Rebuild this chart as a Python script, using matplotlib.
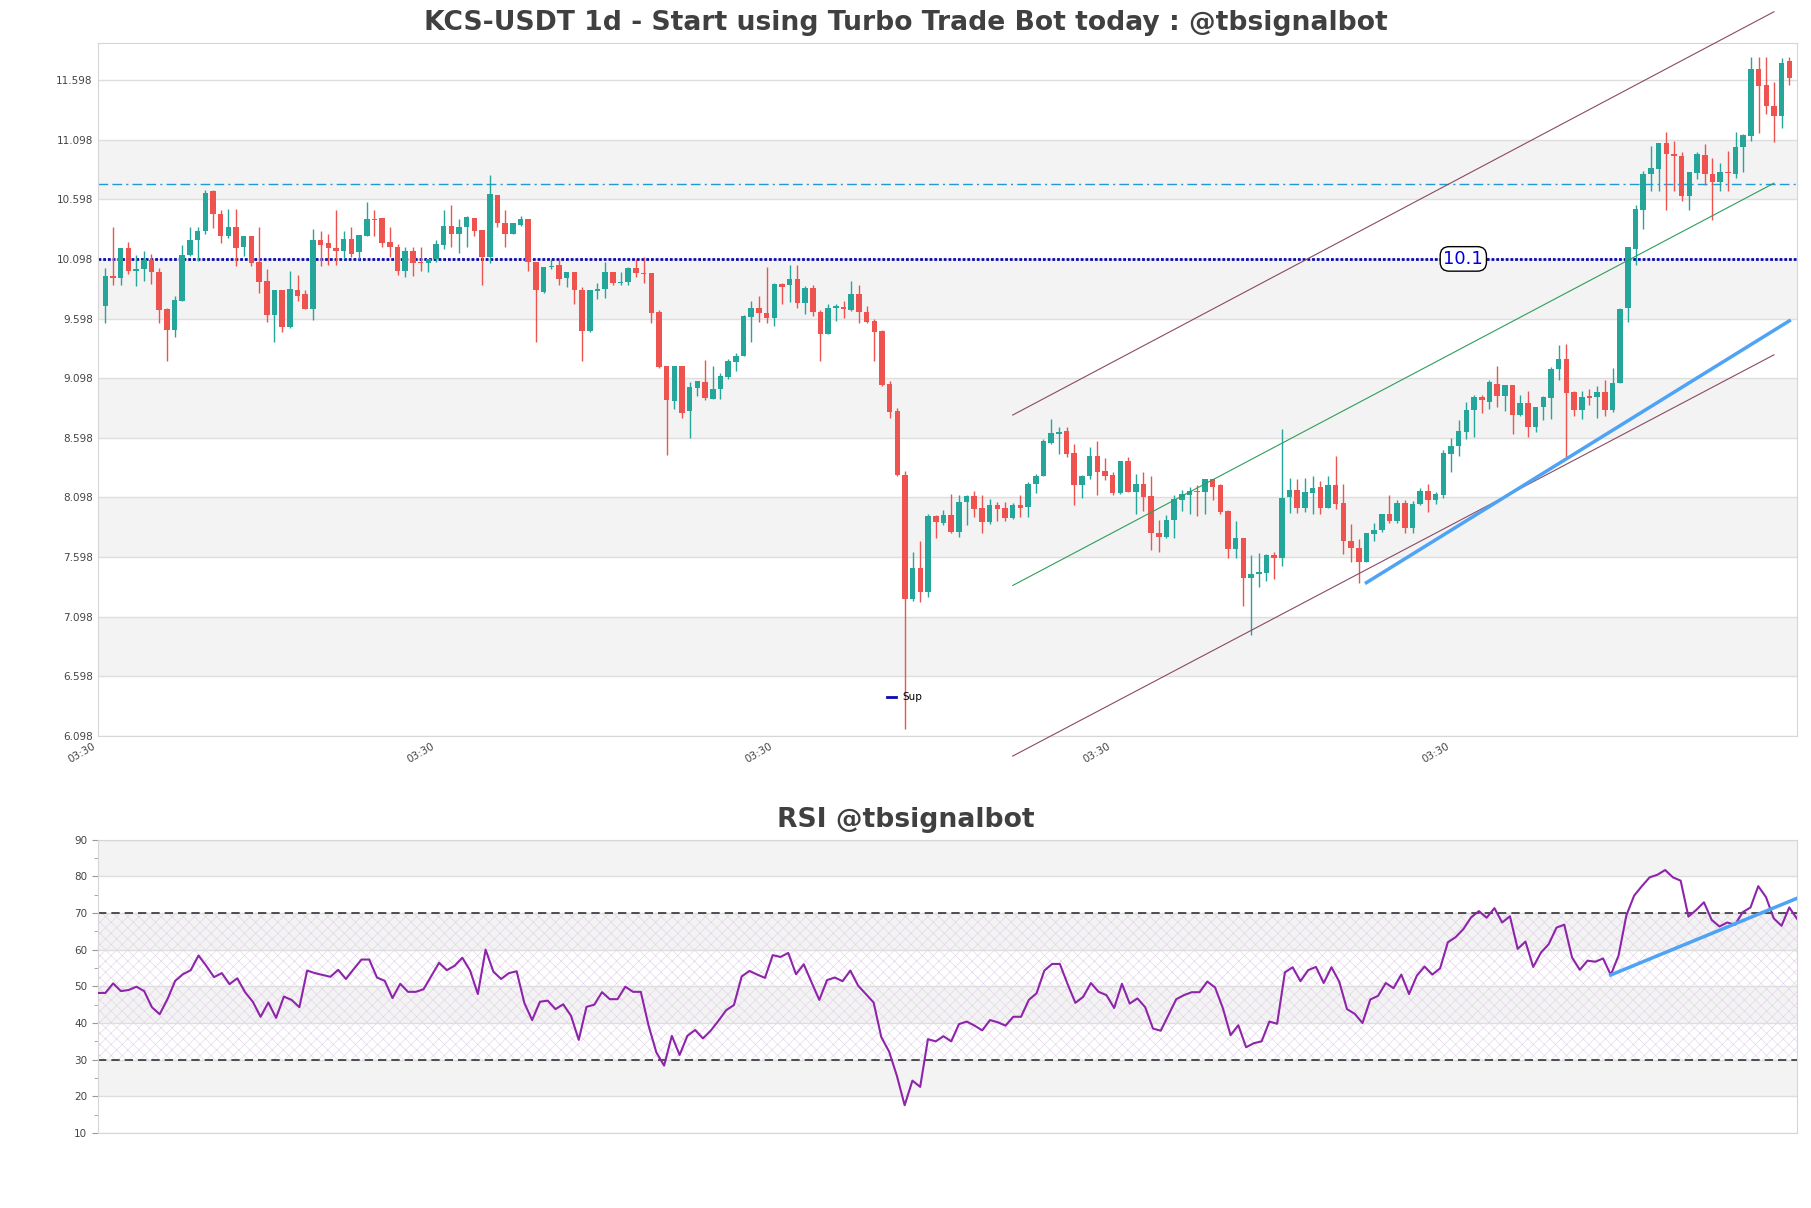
import numpy as np
import matplotlib
matplotlib.use("Agg")
import matplotlib.pyplot as plt
from matplotlib.lines import Line2D

# daily candles (open / high / low / close)
opens = [9.699, 9.957, 9.935, 10.193, 9.995, 10.013, 10.092, 9.991, 9.676, 9.500,
         9.748, 10.130, 10.257, 10.332, 10.665, 10.474, 10.287, 10.362, 10.201, 10.287,
         10.073, 9.912, 9.624, 9.841, 9.523, 9.841, 9.800, 9.676, 10.253, 10.234,
         10.193, 10.163, 10.268, 10.152, 10.287, 10.429, 10.437, 10.242, 10.201, 9.995,
         10.163, 10.070, 10.062, 10.100, 10.212, 10.373, 10.309, 10.369, 10.444, 10.343,
         10.118, 10.635, 10.403, 10.309, 10.384, 10.429, 10.073, 9.822, 10.028, 10.043,
         9.935, 9.991, 9.841, 9.493, 9.826, 9.845, 9.987, 9.897, 9.901, 10.025,
         9.976, 9.976, 9.654, 9.201, 8.905, 9.201, 8.819, 9.017, 9.070, 8.927,
         9.006, 9.111, 9.231, 9.280, 9.609, 9.688, 9.643, 9.605, 9.890, 9.879,
         9.931, 9.725, 9.852, 9.654, 9.467, 9.684, 9.695, 9.673, 9.800, 9.654,
         9.575, 9.493, 9.051, 8.819, 8.287, 7.246, 7.508, 7.302, 7.939, 7.882,
         7.950, 7.808, 8.062, 8.107, 8.006, 7.890, 8.032, 8.006, 7.927, 8.032,
         8.021, 8.212, 8.276, 8.556, 8.631, 8.658, 8.474, 8.201, 8.276, 8.444,
         8.321, 8.283, 8.133, 8.407, 8.145, 8.212, 8.107, 7.800, 7.770, 7.912,
         8.077, 8.118, 8.156, 8.145, 8.249, 8.201, 7.987, 7.665, 7.759, 7.422,
         7.459, 7.463, 7.613, 7.590, 8.100, 8.163, 8.013, 8.137, 8.182, 8.006,
         8.201, 8.051, 7.733, 7.676, 7.553, 7.789, 7.826, 7.957, 7.901, 8.051,
         7.845, 8.040, 8.152, 8.077, 8.118, 8.463, 8.527, 8.650, 8.830, 8.938,
         8.901, 9.051, 8.950, 9.043, 8.789, 8.894, 8.688, 8.856, 8.933, 9.175,
         9.260, 8.979, 8.829, 8.948, 8.941, 8.979, 8.829, 9.056, 9.683, 10.183,
         10.510, 10.806, 10.848, 11.068, 10.979, 10.960, 10.625, 10.818, 10.971, 10.806,
         10.741, 10.825, 10.806, 11.037, 11.125, 11.694, 11.560, 11.383, 11.298, 11.760]
highs = [10.025, 10.362, 10.193, 10.238, 10.130, 10.163, 10.137, 10.025, 9.684, 9.785,
         10.216, 10.362, 10.362, 10.676, 10.676, 10.504, 10.519, 10.519, 10.287, 10.287,
         10.362, 10.010, 9.841, 9.841, 9.998, 9.965, 9.841, 10.347, 10.328, 10.309,
         10.512, 10.336, 10.362, 10.298, 10.571, 10.512, 10.437, 10.362, 10.220, 10.201,
         10.201, 10.201, 10.100, 10.253, 10.512, 10.553, 10.429, 10.459, 10.444, 10.343,
         10.804, 10.635, 10.504, 10.399, 10.459, 10.429, 10.073, 10.032, 10.100, 10.100,
         9.991, 9.991, 9.864, 9.837, 9.897, 10.073, 9.987, 9.987, 10.032, 10.100,
         10.111, 9.976, 9.673, 9.201, 9.201, 9.201, 9.070, 9.077, 9.249, 9.201,
         9.145, 9.257, 9.306, 9.624, 9.748, 9.785, 10.028, 9.897, 9.897, 10.043,
         10.043, 9.867, 9.879, 9.673, 9.718, 9.718, 9.748, 9.909, 9.879, 9.699,
         9.594, 9.500, 9.073, 8.845, 8.321, 7.639, 7.733, 7.957, 7.950, 7.995,
         8.126, 8.118, 8.118, 8.152, 8.118, 8.088, 8.062, 8.062, 8.051, 8.118,
         8.231, 8.294, 8.586, 8.755, 8.688, 8.688, 8.545, 8.283, 8.519, 8.568,
         8.425, 8.313, 8.407, 8.437, 8.294, 8.313, 8.276, 7.912, 7.953, 8.118,
         8.163, 8.182, 8.201, 8.257, 8.257, 8.208, 7.995, 7.901, 7.759, 7.613,
         7.631, 7.628, 7.639, 8.669, 8.264, 8.257, 8.264, 8.276, 8.238, 8.276,
         8.444, 8.208, 7.875, 7.751, 7.796, 7.882, 7.957, 8.118, 8.077, 8.077,
         8.070, 8.174, 8.212, 8.145, 8.493, 8.594, 8.751, 8.901, 8.961, 8.961,
         9.081, 9.201, 9.043, 9.043, 8.957, 8.987, 8.856, 8.950, 9.194, 9.375,
         9.387, 8.991, 8.991, 9.010, 9.029, 9.079, 9.183, 9.690, 10.194, 10.548,
         10.837, 11.048, 11.068, 11.164, 11.087, 10.998, 10.825, 10.991, 11.060, 10.941,
         10.906, 11.002, 11.164, 11.144, 11.791, 11.791, 11.791, 11.579, 11.779, 11.791]
lows = [9.560, 9.879, 9.879, 9.968, 9.867, 9.912, 9.886, 9.560, 9.242, 9.444,
        9.744, 10.122, 10.081, 10.306, 10.354, 10.231, 10.272, 10.036, 10.122, 10.036,
        9.811, 9.568, 9.399, 9.489, 9.515, 9.744, 9.676, 9.583, 10.036, 10.047,
        10.043, 10.100, 10.111, 10.100, 10.287, 10.287, 10.197, 10.111, 9.961, 9.950,
        9.953, 9.998, 9.987, 10.073, 10.178, 10.197, 10.145, 10.197, 10.287, 9.879,
        10.062, 10.362, 10.197, 10.309, 10.373, 9.995, 9.399, 9.811, 10.017, 9.879,
        9.860, 9.718, 9.242, 9.482, 9.763, 9.774, 9.879, 9.882, 9.882, 9.950,
        9.894, 9.560, 9.186, 8.455, 8.837, 8.762, 8.594, 8.950, 8.912, 8.920,
        8.920, 9.088, 9.156, 9.280, 9.399, 9.568, 9.560, 9.534, 9.718, 9.733,
        9.688, 9.635, 9.616, 9.242, 9.467, 9.575, 9.605, 9.665, 9.560, 9.560,
        9.242, 9.032, 8.762, 8.276, 6.159, 7.234, 7.219, 7.264, 7.762, 7.864,
        7.796, 7.770, 7.864, 7.931, 7.796, 7.875, 7.901, 7.901, 7.920, 7.931,
        7.931, 8.133, 8.276, 8.545, 8.463, 8.437, 8.032, 8.096, 8.257, 8.115,
        8.246, 8.115, 8.126, 8.145, 7.957, 7.987, 7.658, 7.639, 7.762, 7.759,
        7.987, 7.957, 7.946, 7.957, 8.077, 7.957, 7.594, 7.594, 7.189, 6.946,
        7.347, 7.395, 7.414, 7.527, 7.968, 7.968, 7.976, 7.957, 7.957, 8.006,
        8.002, 7.628, 7.553, 7.377, 7.553, 7.733, 7.808, 7.882, 7.882, 7.796,
        7.796, 8.032, 7.976, 8.040, 8.096, 8.313, 8.444, 8.586, 8.601, 8.807,
        8.837, 8.856, 8.826, 8.631, 8.781, 8.601, 8.650, 8.751, 8.752, 9.079,
        8.433, 8.779, 8.752, 8.875, 8.767, 8.779, 8.817, 9.056, 9.568, 10.048,
        10.348, 10.664, 10.664, 10.510, 10.664, 10.587, 10.510, 10.768, 10.714, 10.425,
        10.671, 10.664, 10.779, 10.825, 11.087, 11.156, 11.310, 11.079, 11.194, 11.560]
closes = [9.957, 9.935, 10.193, 9.995, 10.017, 10.092, 9.987, 9.669, 9.500, 9.755,
          10.130, 10.257, 10.336, 10.650, 10.474, 10.287, 10.362, 10.189, 10.287, 10.062,
          9.901, 9.624, 9.841, 9.523, 9.849, 9.789, 9.676, 10.253, 10.212, 10.189,
          10.163, 10.268, 10.141, 10.298, 10.429, 10.422, 10.231, 10.197, 9.995, 10.163,
          10.062, 10.062, 10.100, 10.223, 10.373, 10.309, 10.365, 10.448, 10.336, 10.118,
          10.646, 10.399, 10.309, 10.399, 10.429, 10.073, 9.837, 10.032, 10.036, 9.931,
          9.991, 9.837, 9.493, 9.837, 9.845, 9.987, 9.897, 9.905, 10.025, 9.980,
          9.968, 9.643, 9.193, 8.912, 9.201, 8.807, 9.021, 9.077, 8.931, 9.006,
          9.115, 9.242, 9.287, 9.616, 9.688, 9.643, 9.605, 9.890, 9.864, 9.931,
          9.725, 9.852, 9.650, 9.467, 9.688, 9.706, 9.676, 9.800, 9.650, 9.568,
          9.482, 9.043, 8.811, 8.283, 7.246, 7.508, 7.302, 7.939, 7.890, 7.950,
          7.808, 8.062, 8.107, 8.002, 7.890, 8.032, 8.002, 7.927, 8.032, 8.013,
          8.212, 8.276, 8.575, 8.639, 8.650, 8.463, 8.201, 8.276, 8.444, 8.313,
          8.276, 8.133, 8.407, 8.145, 8.212, 8.100, 7.796, 7.770, 7.912, 8.088,
          8.126, 8.156, 8.145, 8.249, 8.182, 7.976, 7.665, 7.759, 7.422, 7.459,
          7.470, 7.613, 7.590, 8.096, 8.163, 8.013, 8.145, 8.174, 8.013, 8.201,
          8.043, 7.733, 7.676, 7.553, 7.796, 7.826, 7.957, 7.901, 8.051, 7.845,
          8.040, 8.152, 8.077, 8.126, 8.470, 8.527, 8.658, 8.830, 8.938, 8.912,
          9.062, 8.950, 9.043, 8.789, 8.894, 8.688, 8.856, 8.938, 9.175, 9.260,
          8.971, 8.829, 8.944, 8.936, 8.979, 8.829, 9.056, 9.675, 10.194, 10.518,
          10.806, 10.856, 11.068, 10.979, 10.963, 10.625, 10.825, 10.979, 10.806, 10.741,
          10.829, 10.814, 11.037, 11.133, 11.694, 11.548, 11.383, 11.298, 11.741, 11.618]

rsi = [48.2, 48.2, 50.8, 48.7, 49.0, 49.9, 48.7, 44.3, 42.4, 46.5,
       51.5, 53.3, 54.4, 58.4, 55.6, 52.5, 53.6, 50.6, 52.2, 48.4,
       45.8, 41.7, 45.6, 41.4, 47.2, 46.3, 44.3, 54.3, 53.6, 53.1,
       52.6, 54.5, 52.0, 54.7, 57.3, 57.3, 52.4, 51.5, 46.8, 50.7,
       48.5, 48.5, 49.2, 52.8, 56.4, 54.4, 55.6, 57.8, 54.3, 47.9,
       60.0, 54.0, 52.0, 53.6, 54.1, 45.4, 40.8, 45.8, 46.1, 43.8,
       45.1, 42.0, 35.4, 44.4, 45.0, 48.4, 46.5, 46.5, 49.9, 48.5,
       48.5, 39.3, 32.0, 28.4, 36.5, 31.3, 36.5, 38.1, 35.8, 37.9,
       40.6, 43.5, 44.9, 52.7, 54.2, 53.2, 52.3, 58.5, 58.0, 59.1,
       53.3, 56.0, 51.1, 46.3, 51.7, 52.4, 51.4, 54.3, 50.2, 47.9,
       45.6, 36.1, 32.2, 25.6, 17.6, 24.3, 22.6, 35.6, 35.0, 36.4,
       35.0, 39.7, 40.4, 39.3, 38.0, 40.8, 40.2, 39.3, 41.7, 41.7,
       46.3, 48.1, 54.3, 56.1, 56.1, 50.6, 45.5, 47.1, 50.9, 48.5,
       47.6, 44.1, 50.7, 45.3, 46.7, 44.3, 38.5, 37.9, 42.2, 46.5,
       47.6, 48.4, 48.4, 51.3, 49.7, 44.1, 36.7, 39.4, 33.4, 34.5,
       35.0, 40.4, 39.8, 53.8, 55.2, 51.4, 54.4, 55.3, 50.9, 55.2,
       51.3, 43.8, 42.5, 40.0, 46.4, 47.4, 50.9, 49.5, 53.2, 47.9,
       52.9, 55.4, 53.2, 54.9, 62.0, 63.4, 65.6, 68.8, 70.5, 68.7,
       71.3, 67.4, 69.1, 60.2, 62.2, 55.3, 59.2, 61.5, 66.0, 66.8,
       57.9, 54.5, 57.0, 56.7, 57.6, 53.1, 58.4, 69.3, 74.7, 77.3,
       79.7, 80.4, 81.7, 79.7, 78.8, 69.0, 70.8, 72.9, 68.1, 66.3,
       67.4, 66.8, 70.2, 71.5, 77.3, 74.3, 68.5, 66.5, 71.5, 68.4]

# levels and drawn lines
price_ticks = [6.098, 6.598, 7.098, 7.598, 8.098, 8.598, 9.098, 9.598, 10.098, 10.598, 11.098, 11.598]
date_ticks = [-1, 43, 87, 131, 175]
date_labels = ["03:30"] * 5
sup_level = 10.098
res_level = 10.727
chan_x = [118, 217]
chan_upper = [8.789, 12.17]
chan_mid = [7.36, 10.733]
chan_lower = [5.93, 9.294]
trend_x = [164, 219]
trend_y = [7.384, 9.579]
rsi_trend_x = [195, 219]
rsi_trend_y = [53.1, 74.0]

green = "#26a69a"
red = "#ef5350"
band = "#f3f3f3"
gridc = "#dedede"
spinec = "#d6d6d6"
supc = "#0a0ab4"

plt.rcParams["hatch.linewidth"] = 0.4

fig = plt.figure(figsize=(18.11, 12.08), dpi=100)
ax = fig.add_axes([0.0539, 0.3907, 0.9384, 0.5737])
rax = fig.add_axes([0.0539, 0.062, 0.9384, 0.243])

# ---- price panel
o = np.array(opens); h = np.array(highs); l = np.array(lows); c = np.array(closes)
x = np.arange(len(o))
cols = np.where(c >= o, green, red)
ax.vlines(x, l, h, colors=cols, lw=1, zorder=3)
body = np.maximum(np.abs(c - o), 0.008)
ax.bar(x, body, bottom=np.minimum(o, c), width=0.72, color=cols, zorder=4, linewidth=0)

for lo in price_ticks[1::2][:-1]:
    ax.axhspan(lo, lo + 0.5, color=band, zorder=0, lw=0)
ax.set_yticks(price_ticks)
ax.set_yticklabels([f"{v:.3f}" for v in price_ticks])
ax.grid(axis="y", color=gridc, lw=1, zorder=1)
ax.set_xticks(date_ticks)
ax.set_xticklabels(date_labels, rotation=30, ha="right")
ax.tick_params(length=0, labelsize=7.5, labelcolor="#444444")
ax.set_xlim(-1, 220)
ax.set_ylim(6.098, 11.908)
for s in ax.spines.values():
    s.set_color(spinec)

ax.axhline(res_level, color="#1f9ad6", lw=1, ls=(0, (7, 3, 7, 3, 1.5, 3)), zorder=2)
ax.axhline(sup_level, color=supc, lw=2, ls=(0, (1, 0.7)), zorder=2)
ax.text(176.6, sup_level, "10.1", color="#0000dd", fontsize=13, ha="center", va="center",
        bbox=dict(boxstyle="round,pad=0.18,rounding_size=0.5", fc="white", ec="black", lw=1), zorder=7)

ax.plot(chan_x, chan_upper, color="#8b4a62", lw=0.8, clip_on=False, zorder=5)
ax.plot(chan_x, chan_lower, color="#8b4a62", lw=0.8, clip_on=False, zorder=5)
ax.plot(chan_x, chan_mid, color="#2e9e5b", lw=0.8, zorder=5)
ax.plot(trend_x, trend_y, color="#4ea3f5", lw=2.5, zorder=6)

sup_handle = Line2D([], [], color=supc, lw=2)
ax.legend([sup_handle], ["Sup"], loc="center", bbox_to_anchor=(0.475, 0.056), frameon=False,
          fontsize=7.5, handlelength=0.9, handletextpad=0.6)

# ---- RSI panel
rx = np.arange(len(rsi))
for lo in [20, 40, 60, 80]:
    rax.axhspan(lo, lo + 10, color=band, zorder=0, lw=0)
rax.axhspan(30, 70, facecolor="none", edgecolor="#e2cfe8", hatch="xxx", lw=0, zorder=1)
rax.set_yticks(range(10, 91, 10))
rax.set_yticks(range(15, 90, 10), minor=True)
rax.grid(axis="y", color=gridc, lw=1, zorder=1)
rax.axhline(30, color="#333333", lw=1.2, ls=(0, (5, 3)), zorder=2)
rax.axhline(70, color="#333333", lw=1.2, ls=(0, (5, 3)), zorder=2)
rax.plot(rx, rsi, color="#8e24aa", lw=1.5, zorder=4)
rax.plot(rsi_trend_x, rsi_trend_y, color="#4ea3f5", lw=2.5, zorder=5)
rax.set_xlim(0, len(rsi) - 1)
rax.set_ylim(10, 90)
rax.set_xticks([])
rax.tick_params(axis="y", which="both", length=4, color="#999999", labelsize=7.5, labelcolor="#444444")
rax.tick_params(axis="y", which="minor", length=3)
for s in rax.spines.values():
    s.set_color(spinec)

fig.text(0.5, 0.981, "KCS-USDT 1d - Start using Turbo Trade Bot today : @tbsignalbot",
         ha="center", va="center", fontsize=19.2, fontweight="bold", color="#404040")
fig.text(0.5, 0.321, "RSI @tbsignalbot", ha="center", va="center",
         fontsize=19.2, fontweight="bold", color="#404040")

fig.savefig("out.png", dpi=100)
